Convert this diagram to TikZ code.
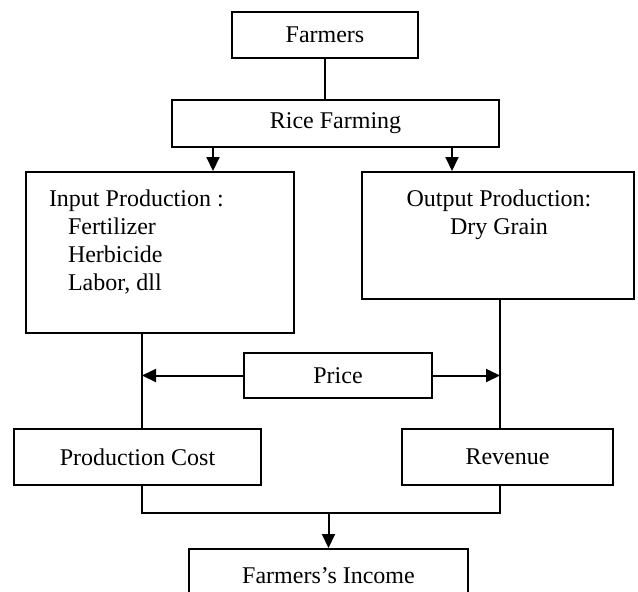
\documentclass[tikz,border=0pt]{standalone}
\usepackage{fontspec}
\setmainfont{Liberation Serif}
\usetikzlibrary{calc,arrows.meta}
\tikzset{
  box/.style={draw,inner sep=0pt,font=\fontsize{12}{14}\selectfont},
  txt/.style={inner sep=0pt,font=\fontsize{12}{14}\selectfont},
  arr/.style={-{Triangle[length=7pt,width=6.5pt]}}
}

\begin{document}
\begin{tikzpicture}[x=0.5pt,y=-0.5pt,line width=1pt]
            \useasboundingbox (0,0) rectangle (638,591);
            \clip (0,0) rectangle (638,591);
            \node[box,minimum width=93pt,minimum height=23pt] (farmers) at (325,35) {Farmers};
            \node[box,minimum width=163.5pt,minimum height=23.5pt] (rice) at (335.5,123.5) {Rice Farming};
            \node[box,minimum width=134pt,minimum height=80.5pt] (input) at (160,252.5) {};
            \node[box,minimum width=136pt,minimum height=63.5pt] (output) at (498,235.5) {};
            \node[txt,anchor=north west,align=left] (inputtxt) at (48,189) {Input Production :\\\hspace*{9.5pt}Fertilizer\\\hspace*{9.5pt}Herbicide\\\hspace*{9.5pt}Labor, dll};
            \node[txt,anchor=north,align=center] (outputtxt) at (499,189) {Output Production:\\Dry Grain};
            \node[box,minimum width=94pt,minimum height=22.5pt] (price) at (338,375.5) {Price};
            \node[box,minimum width=123.5pt,minimum height=28pt] (prodcost) at (137.5,457) {Production Cost};
            \node[box,minimum width=105.5pt,minimum height=28pt] (revenue) at (507.5,457) {Revenue};
            \node[box,minimum width=139.5pt,minimum height=27pt] (income) at (328.5,576) {Farmers's Income};
            \coordinate (ra) at (213,0);
            \coordinate (rb) at (452,0);
            \coordinate (cl) at (142,0);
            \coordinate (cr) at (500,0);
            \coordinate (jn) at (0,513);
            \draw (farmers.south) -- (farmers.south |- rice.north);
            \draw[arr] (rice.south -| ra) -- (input.north -| ra);
            \draw[arr] (rice.south -| rb) -- (output.north -| rb);
            \draw (input.south -| cl) -- (prodcost.north -| cl);
            \draw (output.south -| cr) -- (revenue.north -| cr);
            \draw[arr] (price.west) -- (price.west -| cl);
            \draw[arr] (price.east) -- (price.east -| cr);
            \draw (prodcost.south -| cl) |- (jn -| cr) -- (revenue.south -| cr);
            \draw[arr] (income.north |- jn) -- (income.north);
        \end{tikzpicture}
\end{document}
